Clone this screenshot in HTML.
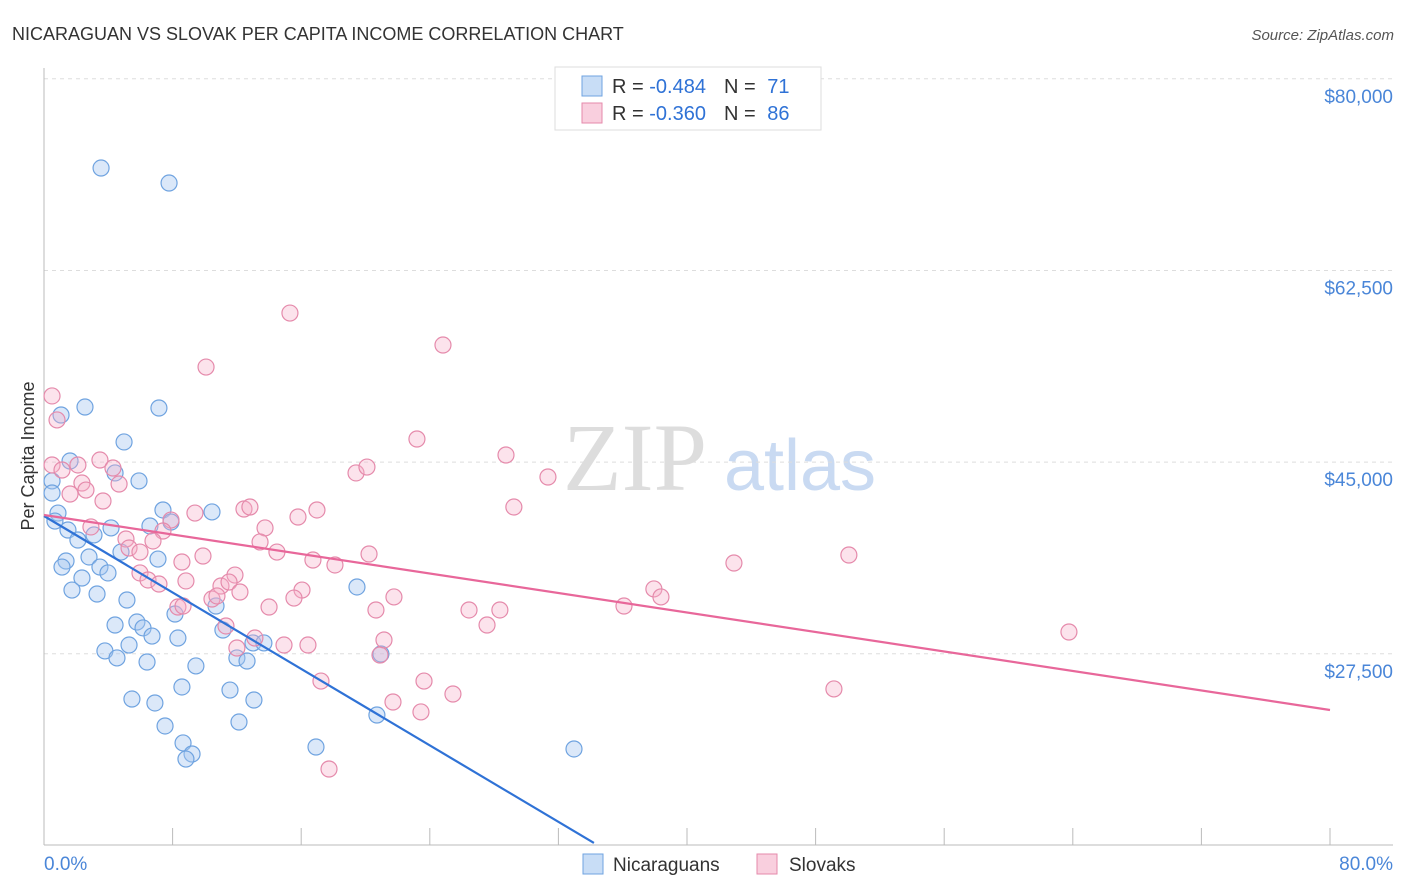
<!DOCTYPE html>
<html><head><meta charset="utf-8"><style>
body{margin:0;background:#fff;font-family:"Liberation Sans",sans-serif}
svg{display:block}
</style></head><body>
<svg id="chart" width="1406" height="892" viewBox="0 0 1406 892" xmlns="http://www.w3.org/2000/svg">
<text x="12" y="40" font-size="18" fill="#333">NICARAGUAN VS SLOVAK PER CAPITA INCOME CORRELATION CHART</text>
<text x="1394" y="40" font-size="15" fill="#555" font-style="italic" text-anchor="end">Source: ZipAtlas.com</text>
<g>
<text x="635" y="490" font-size="96" fill="#ddd" font-family="Liberation Serif,serif" text-anchor="middle">ZIP</text>
<text x="800" y="490" font-size="72" fill="#c9daf2" text-anchor="middle">atlas</text>
</g>
<g id="grid"></g>
<g id="axes"></g>
<g id="points"></g>
<g id="trends"></g>
<text transform="translate(34,456) rotate(-90)" font-size="18" fill="#333" text-anchor="middle">Per Capita Income</text>
<g>
<rect x="555" y="67" width="266" height="63" fill="#fff" stroke="#ddd"/>
<rect x="582" y="76" width="20" height="20" fill="rgba(164,198,240,0.6)" stroke="#6fa3e0"/>
<rect x="582" y="103" width="20" height="20" fill="rgba(245,175,200,0.6)" stroke="#e58aab"/>
<text x="612" y="93" font-size="20" fill="#333">R = <tspan fill="#2f72d6">-0.484</tspan><tspan dx="18">N = </tspan><tspan fill="#2f72d6" dx="6">71</tspan></text>
<text x="612" y="120" font-size="20" fill="#333">R = <tspan fill="#2f72d6">-0.360</tspan><tspan dx="18">N = </tspan><tspan fill="#2f72d6" dx="6">86</tspan></text>
</g>
<g>
<rect x="583" y="854" width="20" height="20" fill="rgba(164,198,240,0.6)" stroke="#6fa3e0"/>
<text x="613" y="871" font-size="19" fill="#333">Nicaraguans</text>
<rect x="757" y="854" width="20" height="20" fill="rgba(245,175,200,0.6)" stroke="#e58aab"/>
<text x="789" y="871" font-size="19" fill="#333">Slovaks</text>
</g>
</svg>
<script>
const yTicks=[27.5,45,62.5,80];
const yTickLabels=["$27,500","$45,000","$62,500","$80,000"];
const xTicks=[0,8,16,24,32,40,48,56,64,72,80];
const xEndLabels=["0.0%","80.0%"];
const blueX=[3.55,7.78,2.55,7.15,1.06,4.98,1.62,4.42,5.91,0.50,0.50,0.87,0.68,7.40,10.45,1.49,2.11,3.11,4.17,6.59,7.90,4.79,7.09,1.37,1.12,2.80,3.48,3.98,2.36,1.74,3.30,5.16,8.15,10.70,19.47,5.78,4.42,6.16,6.72,8.33,11.13,13.00,13.68,3.79,5.29,4.54,6.41,9.45,12.00,12.63,20.96,8.58,11.57,5.47,6.90,13.06,7.53,12.13,20.71,8.65,9.21,8.83,16.92,32.97];
const blueY=[71.85,70.48,50.03,49.94,49.30,46.84,45.10,44.01,43.28,43.28,42.18,40.35,39.62,40.63,40.45,38.80,37.89,38.35,38.99,39.17,39.53,36.79,36.15,35.97,35.42,36.34,35.42,34.88,34.42,33.32,32.96,32.41,31.13,31.86,33.60,30.40,30.13,29.86,29.12,28.94,29.67,28.49,28.49,27.76,28.30,27.12,26.75,26.39,27.12,26.84,27.48,24.47,24.19,23.37,23.01,23.28,20.91,21.27,21.91,19.36,18.35,17.89,18.99,18.81];
const pinkX=[0.50,0.81,15.30,24.82,10.08,0.50,1.12,3.48,2.11,4.29,2.36,4.67,3.67,1.62,2.61,23.20,28.74,31.35,19.41,20.09,29.23,12.44,12.81,16.98,15.80,9.39,7.90,7.40,2.92,5.10,6.78,13.75,13.44,14.49,5.29,5.97,9.89,8.58,16.73,18.10,20.22,42.92,50.07,5.97,6.47,11.88,7.15,8.83,11.01,11.51,12.19,10.45,10.76,16.05,15.55,21.77,37.94,38.38,36.08,26.44,28.36,27.56,20.65,14.00,8.33,11.32,13.12,14.93,16.42,12.00,21.15,63.76,20.90,17.23,23.64,25.44,21.71,23.45,49.14,17.73,8.65];
const pinkY=[51.04,48.85,58.61,55.69,53.68,44.74,44.28,45.19,44.74,44.46,43.09,43.00,41.45,42.09,42.45,47.11,45.65,43.64,44.01,44.55,40.90,40.72,40.90,40.63,39.99,40.35,39.71,38.71,39.08,37.98,37.80,38.99,37.71,36.79,37.16,36.79,36.43,35.88,36.06,35.61,36.61,35.79,36.52,34.88,34.24,34.69,33.87,34.15,33.69,34.05,33.14,32.50,32.78,33.32,32.59,32.69,33.42,32.69,31.86,31.50,31.50,30.13,31.50,31.77,31.77,30.04,28.94,28.30,28.30,28.03,28.76,29.49,27.39,25.01,25.01,23.83,23.10,22.19,24.29,16.98,31.86];
const blueTrend=[40.08,-0.8726,34.21]; // intercept, slope, x-end
const pinkTrend=[40.17,-0.2225,80];

const NS="http://www.w3.org/2000/svg";
const xS=v=>44+v*16.075;
const yS=v=>955-v*10.953;
function mk(tag,attrs,parent){const e=document.createElementNS(NS,tag);for(const k in attrs)e.setAttribute(k,attrs[k]);parent.appendChild(e);return e;}
const grid=document.getElementById('grid'),axes=document.getElementById('axes'),pts=document.getElementById('points'),tr=document.getElementById('trends');
yTicks.forEach((t,i)=>{
  const l=mk('line',{x1:44,x2:1393,y1:yS(t),y2:yS(t),stroke:'#ddd','stroke-dasharray':'4,4'},grid);
  
  
  const tx=mk('text',{x:1393,y:yS(t)+24,'font-size':19,fill:'#4a86d8','text-anchor':'end'},axes);
  tx.textContent=yTickLabels[i];
  
  
});
const ya=mk('line',{x1:44,x2:44,y1:68,y2:845,stroke:'#bbb'},axes);


const xa=mk('line',{x1:44,x2:1393,y1:845,y2:845,stroke:'#bbb'},axes);


xTicks.forEach(t=>{
  const l=mk('line',{x1:xS(t),x2:xS(t),y1:828,y2:845,stroke:'#bbb'},axes);
  
  
});
[[0,'start'],[80,'end']].forEach((p,i)=>{
  const tx=mk('text',{x:i?1393:44,y:870,'font-size':19,fill:'#4a86d8','text-anchor':p[1]},axes);
  tx.textContent=xEndLabels[i];
  
  
});
function drawPts(X,Y,fill,stroke,name){
  X.forEach((x,i)=>{
    const c=mk('circle',{cx:xS(x),cy:yS(Y[i]),r:8,fill:fill,stroke:stroke,'stroke-width':1.2},pts);
    
    
  });
}
drawPts(blueX,blueY,'rgba(164,198,240,0.4)','#6fa3e0','nicaraguan-point');
drawPts(pinkX,pinkY,'rgba(245,175,200,0.35)','#e58aab','slovak-point');
function drawTrend(t,color,name){
  const l=mk('line',{x1:xS(0),y1:yS(t[0]),x2:xS(t[2]),y2:yS(t[0]+t[1]*t[2]),stroke:color,'stroke-width':2.2},tr);
  
  
}
drawTrend(blueTrend,'#2f72d6','nicaraguan-trendline');
drawTrend(pinkTrend,'#e8679a','slovak-trendline');
</script>
</body></html>
